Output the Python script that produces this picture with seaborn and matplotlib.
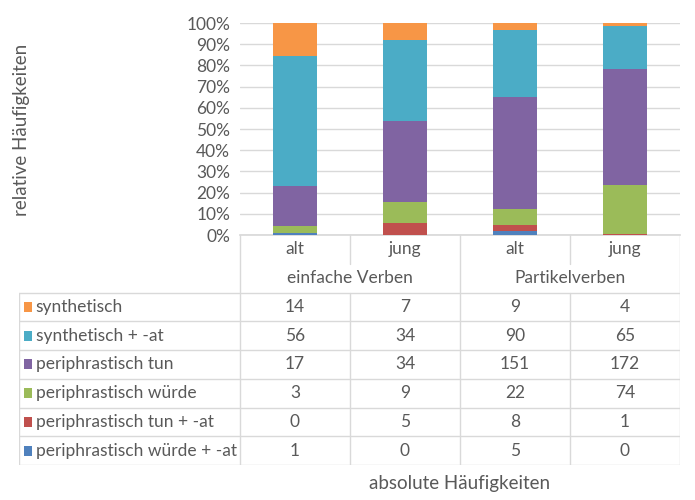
import numpy as np
import pandas as pd
import matplotlib
matplotlib.use('Agg')
import matplotlib.pyplot as plt
import seaborn as sns

# data: absolute counts per series, columns = alt/jung for einfache Verben, alt/jung for Partikelverben
groups = ['einfache Verben', 'Partikelverben']
ages = ['alt', 'jung', 'alt', 'jung']
series = ['synthetisch', 'synthetisch + -at', 'periphrastisch tun',
          'periphrastisch würde', 'periphrastisch tun + -at', 'periphrastisch würde + -at']
synthetisch = [14, 7, 9, 4]
synthetisch_at = [56, 34, 90, 65]
periph_tun = [17, 34, 151, 172]
periph_wuerde = [3, 9, 22, 74]
periph_tun_at = [0, 5, 8, 1]
periph_wuerde_at = [1, 0, 5, 0]
colors = ['#F79646', '#4BACC6', '#8064A2', '#9BBB59', '#C0504D', '#4F81BD']

counts = np.array([synthetisch, synthetisch_at, periph_tun, periph_wuerde,
                   periph_tun_at, periph_wuerde_at], dtype=float)
pct = counts / counts.sum(axis=0) * 100
# cumulative from bottom (last series sits at the bottom)
cum = np.cumsum(pct[::-1], axis=0)[::-1]

sns.set_theme(style='white')
plt.rcParams['font.family'] = ['Lato', 'DejaVu Sans']
txt = '#595959'
grid = '#D9D9D9'
fs = 12.5

fig = plt.figure(figsize=(6.95, 5), dpi=100)
ax = fig.add_axes([240/695, 1-235/500, 440/695, 212/500])

cols = ['c0', 'c1', 'c2', 'c3']
for i, name in enumerate(series):
    df = pd.DataFrame({'col': cols, 'val': cum[i]})
    sns.barplot(data=df, x='col', y='val', color=colors[i], width=0.4,
                saturation=1, linewidth=0, ax=ax, zorder=3, order=cols)

ax.set_ylim(0, 100)
ax.set_xlim(-0.5, 3.5)
ax.set_yticks(np.arange(0, 101, 10))
ax.set_yticklabels([f'{v}%' for v in range(0, 101, 10)], color=txt, fontsize=fs)
ax.yaxis.grid(True, color=grid, lw=1, zorder=0)
ax.set_xticks([])
ax.set_xlabel('')
ax.set_ylabel('')
for s in ['top', 'right', 'left']:
    ax.spines[s].set_visible(False)
ax.spines['bottom'].set_color(grid)
ax.tick_params(axis='y', length=0, pad=7)

fig.text(22/695, 1-130/500, 'relative Häufigkeiten', rotation=90, color=txt,
         fontsize=13.5, ha='center', va='center')

# data table below the bars
left = -0.5 - 221/110
at = fig.add_axes([19/695, 1-465/500, 661/695, 230/500])
at.set_xlim(left, 3.5)
at.set_ylim(8, 0)
at.axis('off')

kw = dict(color=grid, lw=1)
for x in [-0.5, 1.5, 3.5]:
    at.plot([x, x], [0, 8], **kw)
for x in [0.5, 2.5]:
    at.plot([x, x], [0, 1], **kw)
    at.plot([x, x], [2, 8], **kw)
at.plot([left, left], [2, 8], **kw)
for y in range(2, 9):
    at.plot([left, 3.5], [y, y], **kw)

for j, a in enumerate(ages):
    at.text(j, 0.5, a, ha='center', va='center', color=txt, fontsize=fs)
for g, name in enumerate(groups):
    at.text(2*g + 0.5, 1.5, name, ha='center', va='center', color=txt, fontsize=fs)

for i, name in enumerate(series):
    y = 2.5 + i
    at.add_patch(plt.Rectangle((left + 0.045, y - 0.17), 0.072, 0.34,
                               color=colors[i], lw=0))
    at.text(left + 0.15, y, name, ha='left', va='center', color=txt, fontsize=fs)
    for j in range(4):
        at.text(j, y, str(int(counts[i, j])), ha='center', va='center',
                color=txt, fontsize=fs)

fig.text(460/695, 1-484/500, 'absolute Häufigkeiten', ha='center', va='center',
         color=txt, fontsize=13.5)

fig.savefig('out.png', dpi=100, facecolor='white')
